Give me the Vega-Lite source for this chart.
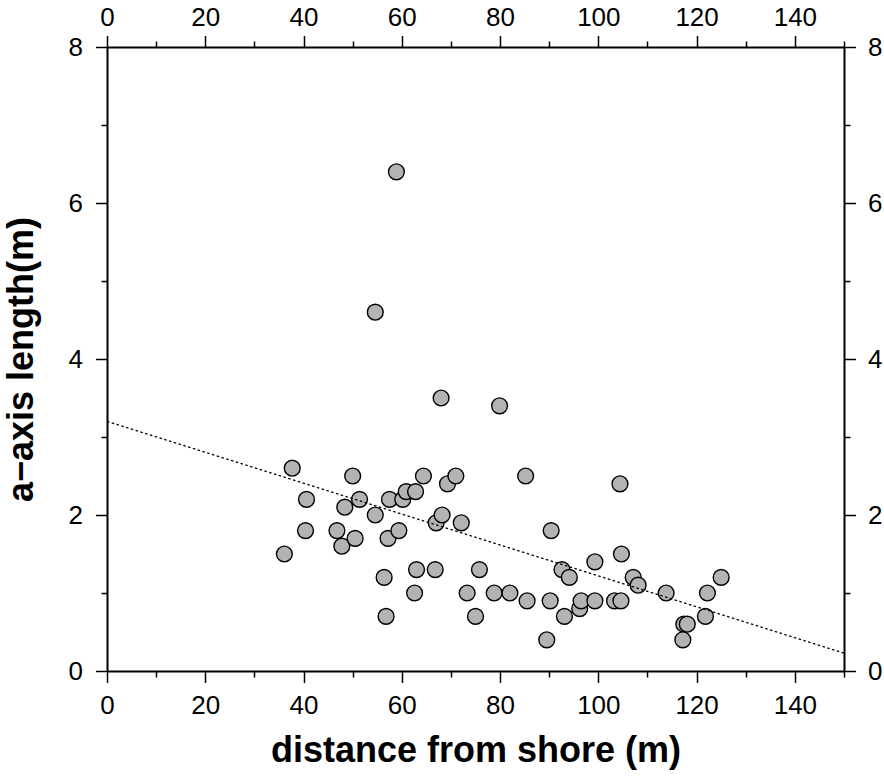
{
  "$schema": "https://vega.github.io/schema/vega-lite/v6.json",
  "width": 737,
  "height": 624,
  "autosize": "none",
  "padding": {"left": 107, "top": 47, "right": 40, "bottom": 105},
  "background": "white",
  "config": {
    "view": {"stroke": null},
    "font": "Liberation Sans",
    "axis": {
      "grid": false,
      "domainColor": "black",
      "domainWidth": 2,
      "tickColor": "black",
      "tickWidth": 1.5,
      "labelFont": "Liberation Sans",
      "labelFontSize": 26,
      "labelColor": "black",
      "labelFlush": false,
      "labelOverlap": false,
      "labelBound": false,
      "titleFont": "Liberation Sans",
      "titleFontSize": 36,
      "titleFontWeight": "bold",
      "titleColor": "black"
    }
  },
  "resolve": {"axis": {"x": "independent", "y": "independent"}},
  "layer": [
    {
      "data": {
        "values": [
          {"distance": 36.1, "length": 1.5},
          {"distance": 37.7, "length": 2.6},
          {"distance": 40.6, "length": 2.2},
          {"distance": 40.4, "length": 1.8},
          {"distance": 46.8, "length": 1.8},
          {"distance": 47.8, "length": 1.6},
          {"distance": 48.4, "length": 2.1},
          {"distance": 50.0, "length": 2.5},
          {"distance": 50.5, "length": 1.7},
          {"distance": 51.4, "length": 2.2},
          {"distance": 54.6, "length": 2.0},
          {"distance": 54.6, "length": 4.6},
          {"distance": 56.4, "length": 1.2},
          {"distance": 56.8, "length": 0.7},
          {"distance": 57.2, "length": 1.7},
          {"distance": 57.5, "length": 2.2},
          {"distance": 58.9, "length": 6.4},
          {"distance": 59.4, "length": 1.8},
          {"distance": 60.2, "length": 2.2},
          {"distance": 60.9, "length": 2.3},
          {"distance": 62.8, "length": 2.3},
          {"distance": 62.6, "length": 1.0},
          {"distance": 63.0, "length": 1.3},
          {"distance": 64.4, "length": 2.5},
          {"distance": 66.8, "length": 1.3},
          {"distance": 67.0, "length": 1.9},
          {"distance": 68.2, "length": 2.0},
          {"distance": 68.0, "length": 3.5},
          {"distance": 69.3, "length": 2.4},
          {"distance": 71.0, "length": 2.5},
          {"distance": 72.1, "length": 1.9},
          {"distance": 73.3, "length": 1.0},
          {"distance": 75.0, "length": 0.7},
          {"distance": 75.8, "length": 1.3},
          {"distance": 78.8, "length": 1.0},
          {"distance": 79.9, "length": 3.4},
          {"distance": 82.0, "length": 1.0},
          {"distance": 85.2, "length": 2.5},
          {"distance": 85.5, "length": 0.9},
          {"distance": 89.5, "length": 0.4},
          {"distance": 90.2, "length": 0.9},
          {"distance": 90.4, "length": 1.8},
          {"distance": 92.6, "length": 1.3},
          {"distance": 93.1, "length": 0.7},
          {"distance": 94.1, "length": 1.2},
          {"distance": 96.2, "length": 0.8},
          {"distance": 96.5, "length": 0.9},
          {"distance": 99.3, "length": 0.9},
          {"distance": 99.3, "length": 1.4},
          {"distance": 103.3, "length": 0.9},
          {"distance": 104.6, "length": 0.9},
          {"distance": 104.4, "length": 2.4},
          {"distance": 104.7, "length": 1.5},
          {"distance": 107.1, "length": 1.2},
          {"distance": 108.1, "length": 1.1},
          {"distance": 113.8, "length": 1.0},
          {"distance": 117.4, "length": 0.6},
          {"distance": 118.1, "length": 0.6},
          {"distance": 117.2, "length": 0.4},
          {"distance": 121.8, "length": 0.7},
          {"distance": 122.2, "length": 1.0},
          {"distance": 125.0, "length": 1.2}
        ]
      },
      "mark": {"type": "point", "shape": "circle", "filled": true, "fill": "#b3b3b3", "stroke": "black", "strokeWidth": 1.4, "opacity": 1, "size": 250},
      "encoding": {
        "x": {
          "field": "distance", "type": "quantitative",
          "scale": {"domain": [0, 150], "nice": false, "zero": false},
          "axis": {
            "orient": "bottom",
            "title": "distance from shore (m)",
            "values": [0, 10, 20, 30, 40, 50, 60, 70, 80, 90, 100, 110, 120, 130, 140, 150],
            "labelExpr": "datum.value % 20 === 0 && datum.value < 150 ? datum.label : ''",
            "tickSize": {"condition": {"test": "datum.value % 20 === 0", "value": 11.5}, "value": 6},
            "labelPadding": 10,
            "titlePadding": 15
          }
        },
        "y": {
          "field": "length", "type": "quantitative",
          "scale": {"domain": [0, 8], "nice": false, "zero": false},
          "axis": {
            "orient": "left",
            "title": "a−axis length(m)",
            "values": [0, 1, 2, 3, 4, 5, 6, 7, 8],
            "labelExpr": "datum.value % 2 === 0 ? datum.label : ''",
            "tickSize": {"condition": {"test": "datum.value % 2 === 0", "value": 11.5}, "value": 6},
            "labelPadding": 13,
            "titlePadding": 28
          }
        }
      }
    },
    {
      "data": {
        "values": [
          {"distance": 0, "length": 3.2},
          {"distance": 150, "length": 0.23}
        ]
      },
      "mark": {"type": "line", "color": "black", "strokeWidth": 1.3, "strokeDash": [2.5, 2.5]},
      "encoding": {
        "x": {
          "field": "distance", "type": "quantitative",
          "scale": {"domain": [0, 150], "nice": false, "zero": false},
          "axis": {
            "orient": "top",
            "title": null,
            "values": [0, 10, 20, 30, 40, 50, 60, 70, 80, 90, 100, 110, 120, 130, 140, 150],
            "labelExpr": "datum.value % 20 === 0 && datum.value < 150 ? datum.label : ''",
            "tickSize": {"condition": {"test": "datum.value % 20 === 0", "value": 11.5}, "value": 6},
            "labelPadding": 5
          }
        },
        "y": {
          "field": "length", "type": "quantitative",
          "scale": {"domain": [0, 8], "nice": false, "zero": false},
          "axis": {
            "orient": "right",
            "title": null,
            "values": [0, 1, 2, 3, 4, 5, 6, 7, 8],
            "labelExpr": "datum.value % 2 === 0 ? datum.label : ''",
            "tickSize": {"condition": {"test": "datum.value % 2 === 0", "value": 11.5}, "value": 6},
            "labelPadding": 12
          }
        }
      }
    }
  ]
}
